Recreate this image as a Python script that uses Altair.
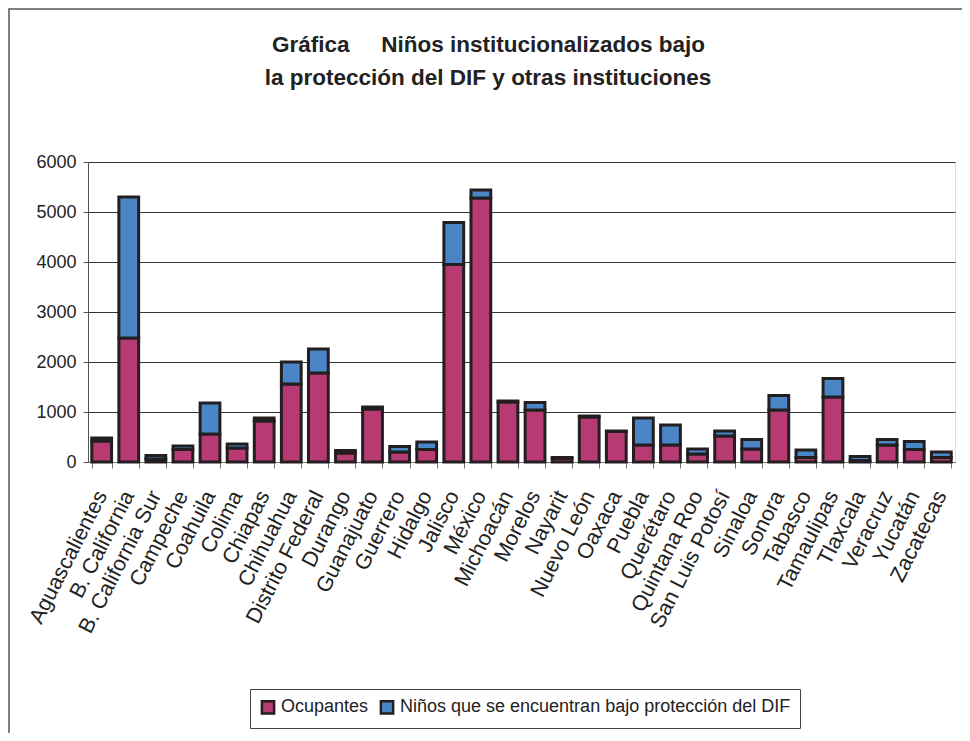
import altair as alt
import pandas as pd

states = ["Aguascalientes", "B. California", "B. California Sur", "Campeche", "Coahuila",
          "Colima", "Chiapas", "Chihuahua", "Distrito Federal", "Durango", "Guanajuato",
          "Guerrero", "Hidalgo", "Jalisco", "México", "Michoacán", "Morelos", "Nayarit",
          "Nuevo León", "Oaxaca", "Puebla", "Querétaro", "Quintana Roo", "San Luis Potosí",
          "Sinaloa", "Sonora", "Tabasco", "Tamaulipas", "Tlaxcala", "Veracruz", "Yucatán",
          "Zacatecas"]
ocupantes = [420, 2480, 60, 250, 560, 280, 820, 1560, 1780, 180, 1060,
             200, 250, 3950, 5280, 1200, 1040, 70, 900, 610, 340, 340,
             160, 520, 260, 1040, 90, 1300, 30, 340, 250, 90]
ninos_dif = [60, 2820, 70, 70, 620, 80, 60, 440, 480, 50, 40,
             110, 150, 840, 160, 20, 150, 20, 20, 10, 540, 400,
             100, 100, 190, 290, 150, 370, 80, 110, 160, 110]
series = ["Ocupantes", "Niños que se encuentran bajo protección del DIF"]
colors = ["#B83A72", "#4A86C6"]
y_ticks = [0, 1000, 2000, 3000, 4000, 5000, 6000]
title_word = "Gráfica"
title_line1 = "Niños institucionalizados bajo"
title_line2 = "la protección del DIF y otras instituciones"

rows = []
for i, s in enumerate(states):
    rows.append({"estado": s, "serie": series[0], "valor": ocupantes[i], "orden": 0})
    rows.append({"estado": s, "serie": series[1], "valor": ninos_dif[i], "orden": 1})
df = pd.DataFrame(rows)

FONT = "Liberation Sans"
TFONT = "'Liberation Sans Narrow', 'Arial Narrow', 'Liberation Sans', sans-serif"

bars = alt.Chart(df).mark_bar(stroke="#231F20", strokeWidth=3).encode(
    x=alt.X("estado:N", sort=states, title=None,
            scale=alt.Scale(paddingInner=0.27, paddingOuter=0.14),
            axis=alt.Axis(labelAngle=-63, labelAlign="right", labelBaseline="middle",
                          labelPadding=24, labelFontSize=21.5, labelFont=FONT,
                          labelColor="#222", tickBand="extent", tickSize=6,
                          tickColor="#777", domainColor="#777", grid=False,
                          labelOverlap=False, labelLimit=300)),
    y=alt.Y("valor:Q", stack="zero", title=None,
            scale=alt.Scale(domain=[0, 6000], nice=False),
            axis=alt.Axis(values=y_ticks, format="d", labelFontSize=18, labelFont=FONT,
                          labelColor="#222", tickSize=5, tickColor="#555",
                          domainColor="#555", labelPadding=7,
                          gridColor="#333", gridWidth=1.2)),
    color=alt.Color("serie:N", sort=series,
                    scale=alt.Scale(domain=series, range=colors),
                    legend=alt.Legend(title=None, orient="none", legendX=162, legendY=527,
                                      direction="horizontal", columns=2,
                                      symbolType="square", symbolSize=150,
                                      symbolStrokeColor="#231F20", symbolStrokeWidth=2.5,
                                      labelFontSize=18, labelFont=FONT, labelColor="#222",
                                      labelLimit=600, columnPadding=6, labelOffset=4,
                                      strokeColor="#444", padding=9,
                                      fillColor="white")),
    order=alt.Order("orden:Q", sort="ascending"),
)

one = pd.DataFrame({"k": [0]})

frame = alt.Chart(one).mark_rect(
    fill=None, stroke="#555", strokeWidth=1.5
).encode(x=alt.value(-79), x2=alt.value(960), y=alt.value(-153), y2=alt.value(700))

t_word = alt.Chart(one).mark_text(
    text=title_word, font=TFONT, fontSize=22.5, fontWeight="bold", color="#222",
    align="left", baseline="alphabetic"
).encode(x=alt.value(184), y=alt.value(-110))

t_line1 = alt.Chart(one).mark_text(
    text=title_line1, font=TFONT, fontSize=22.5, fontWeight="bold", color="#222",
    align="right", baseline="alphabetic"
).encode(x=alt.value(617), y=alt.value(-110))

t_line2 = alt.Chart(one).mark_text(
    text=title_line2, font=TFONT, fontSize=22.5, fontWeight="bold", color="#222",
    align="center", baseline="alphabetic"
).encode(x=alt.value(400), y=alt.value(-77))

chart = alt.layer(frame, bars, t_word, t_line1, t_line2).properties(
    width=867, height=300,
    autosize=alt.AutoSizeParams(type="none"),
    padding={"left": 80, "top": 154, "right": 7, "bottom": 271},
).configure_view(stroke=None).configure(background="white")

chart.save("out.html", embed_options={"renderer": "svg", "actions": False})
